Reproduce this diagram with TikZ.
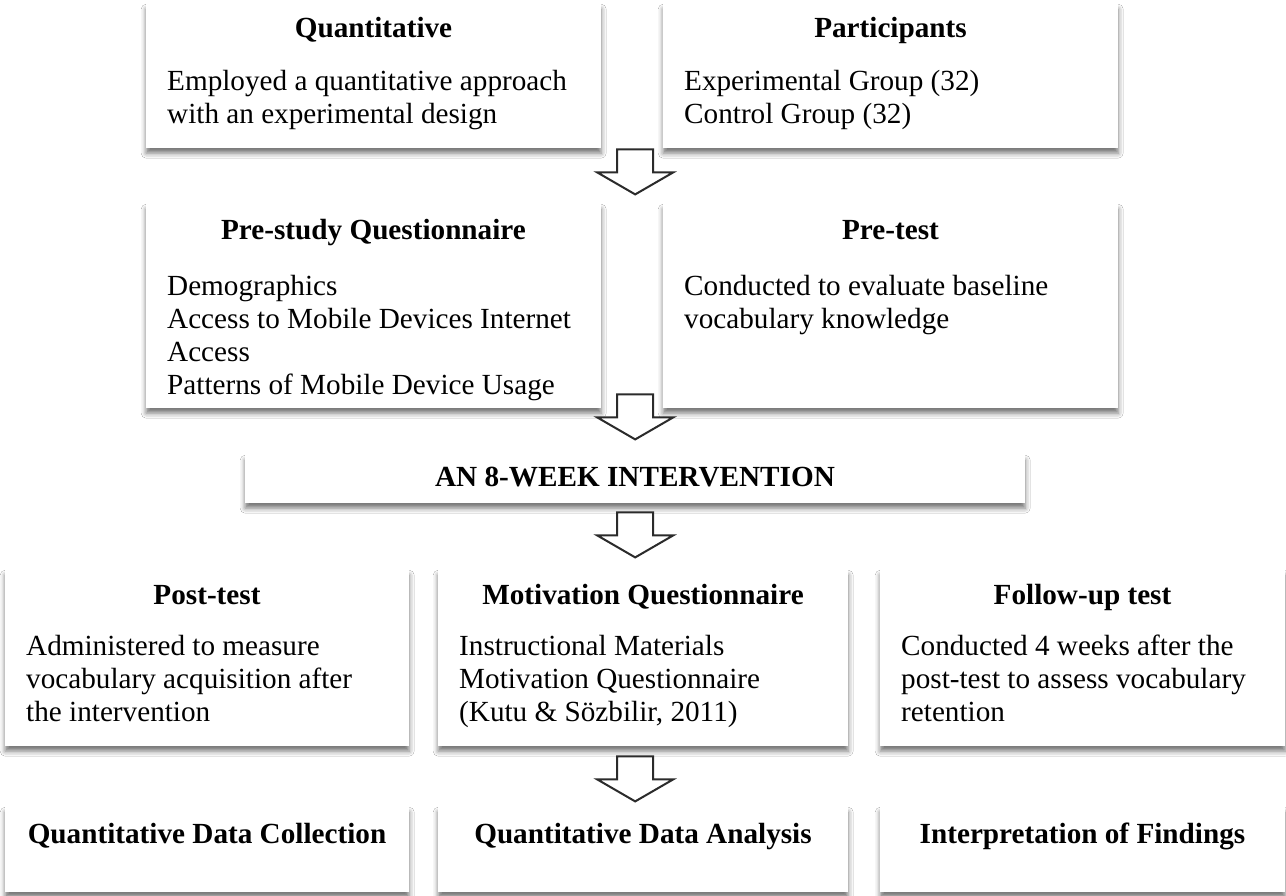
\documentclass[tikz,border=0pt]{standalone}
\usepackage{fontspec}
\setmainfont{Liberation Serif}
\usetikzlibrary{shadows.blur,calc}
\definecolor{arrowgray}{HTML}{2B2B2B}
\begin{document}
\begin{tikzpicture}[x=1pt,y=-1pt,
  box/.style={rectangle, fill=white, draw=none, inner sep=0pt, anchor=north west,
    blur shadow={shadow xshift=0pt, shadow yshift=-5pt, shadow blur radius=5pt, shadow opacity=55}},
  ttl/.style={font=\fontsize{29.2}{33.5}\selectfont\bfseries, anchor=base, inner sep=0pt},
  bodytext/.style={font=\fontsize{29.2}{33}\selectfont, anchor=base west, align=left, inner sep=0pt},
  arrowline/.style={draw=arrowgray, fill=white, line width=2pt, line join=miter},
  blockarrow/.pic={\path[arrowline] (-18,0) -- (18,0) -- (18,23) -- (38,23) -- (0,45) -- (-38,23) -- (-18,23) -- cycle;}
]
\useasboundingbox[fill=white] (0,0) rectangle (1286,896);

% Row 1
\node[box, minimum width=455pt, minimum height=144pt] (A) at (146,4) {};
\node[box, minimum width=455pt, minimum height=144pt] (B) at (663,4) {};
\node[ttl] (At) at (373.5,38) {Quantitative};
\node[bodytext] (Ab) at (167,124) {Employed a quantitative approach\\with an experimental design};
\node[ttl] (Bt) at (890.5,38) {Participants};
\node[bodytext] (Bb) at (684,124) {Experimental Group (32)\\Control Group (32)};

% Row 2
\node[box, minimum width=455pt, minimum height=204pt] (C) at (146,204) {};
\node[box, minimum width=455pt, minimum height=204pt] (D) at (663,204) {};
\node[ttl] (Ct) at (373.5,240) {Pre-study Questionnaire};
\node[bodytext] (Cb) at (167,394) {Demographics\\Access to Mobile Devices Internet\\Access\\Patterns of Mobile Device Usage};
\node[ttl] (Dt) at (890.5,240) {Pre-test};
\node[bodytext] (Db) at (684,329) {Conducted to evaluate baseline\\vocabulary knowledge};

% Row 3
\node[box, minimum width=780pt, minimum height=48pt] (E) at (245,455) {};
\node[ttl] (Et) at (635,486) {AN 8-WEEK INTERVENTION};

% Row 4
\node[box, minimum width=404pt, minimum height=176pt] (F) at (5,570) {};
\node[box, minimum width=410pt, minimum height=176pt] (G) at (438,570) {};
\node[box, minimum width=405pt, minimum height=176pt] (H) at (880,570) {};
\node[ttl] (Ft) at (207,604) {Post-test};
\node[bodytext] (Fb) at (26,721) {Administered to measure\\vocabulary acquisition after\\the intervention};
\node[ttl] (Gt) at (643,604) {Motivation Questionnaire};
\node[bodytext] (Gb) at (459,721) {Instructional Materials\\Motivation Questionnaire\\(Kutu \& Sözbilir, 2011)};
\node[ttl] (Ht) at (1082.5,604) {Follow-up test};
\node[bodytext] (Hb) at (901,721) {Conducted 4 weeks after the\\post-test to assess vocabulary\\retention};

% Row 5
\node[box, minimum width=404pt, minimum height=85pt] (I) at (5,807) {};
\node[box, minimum width=410pt, minimum height=85pt] (J) at (438,807) {};
\node[box, minimum width=405pt, minimum height=85pt] (K) at (880,807) {};
\node[ttl] (It) at (207,843) {Quantitative Data Collection};
\node[ttl] (Jt) at (643,843) {Quantitative Data Analysis};
\node[ttl] (Kt) at (1082.5,843) {Interpretation of Findings};

% Block arrows
\coordinate (a1) at ($(E.center |- A.south)+(0,1)$);
\coordinate (a2) at ($(E.center |- C.south)+(0,-14)$);
\coordinate (a3) at ($(E.south)+(0,9)$);
\coordinate (a4) at ($(E.center |- G.south)+(0,10)$);
\pic at (a1) {blockarrow};
\pic at (a2) {blockarrow};
\pic at (a3) {blockarrow};
\pic at (a4) {blockarrow};
\end{tikzpicture}
\end{document}
